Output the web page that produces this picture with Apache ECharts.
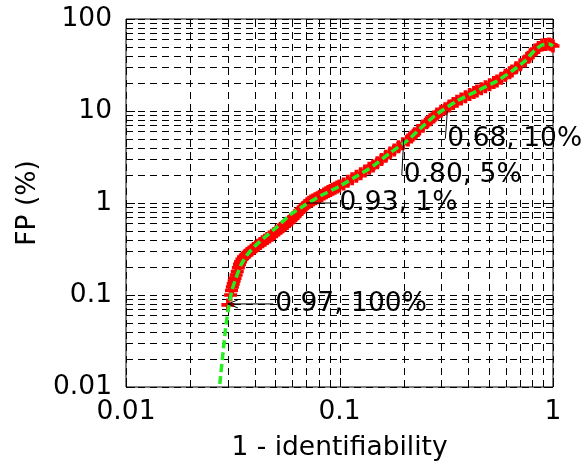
<!DOCTYPE html>
<html>
<head>
<meta charset="utf-8">
<script src="https://cdn.jsdelivr.net/npm/echarts@6/dist/echarts.min.js"></script>
<style>
  html, body { margin: 0; padding: 0; background: #fff; }
  #chart { width: 582px; height: 461px; }
</style>
</head>
<body>
<div id="chart"></div>
<script>
// Axis ticks and labels
const xTickValues = [0.01, 0.1, 1];
const xTickLabels = ['0.01', '0.1', '1'];
const yTickValues = [0.01, 0.1, 1, 10, 100];
const yTickLabels = ['0.01', '0.1', '1', '10', '100'];

// Measured points: 1 - identifiability vs. false positives (%)
const measuredX = [
  0.0300, 0.0309, 0.0312, 0.0315, 0.0318, 0.0321, 0.0324, 0.0328, 0.0332, 0.0336,
  0.0340, 0.0344, 0.0349, 0.0355, 0.0362, 0.0370, 0.0378, 0.0387, 0.0396, 0.0405,
  0.0415, 0.0425, 0.0436, 0.0447, 0.0458, 0.0470, 0.0482, 0.0494, 0.0506, 0.0518,
  0.0530, 0.0542, 0.0555, 0.0568, 0.0581, 0.0594, 0.0607, 0.0620, 0.0634, 0.0648,
  0.0662, 0.0676, 0.0690, 0.0705, 0.0720, 0.0736, 0.0752, 0.0770, 0.0788, 0.0806,
  0.0825, 0.0845, 0.0865, 0.0886, 0.0907, 0.0929, 0.0951, 0.0974, 0.0998, 0.1045,
  0.1094, 0.1146, 0.1200, 0.1257, 0.1316, 0.1378, 0.1436, 0.1503, 0.1574, 0.1648,
  0.1724, 0.1805, 0.1890, 0.1979, 0.2094, 0.2170, 0.2250, 0.2333, 0.2461, 0.2560,
  0.2660, 0.2760, 0.2862, 0.2990, 0.3125, 0.3265, 0.3410, 0.3551, 0.3715, 0.3890,
  0.4070, 0.4260, 0.4406, 0.4610, 0.4825, 0.5050, 0.5280, 0.5467, 0.5720, 0.5985,
  0.6260, 0.6427, 0.6720, 0.7030, 0.7394, 0.7660, 0.7940, 0.8236, 0.8550, 0.8882,
  0.9220, 0.9579, 0.9800, 1.0];
const measuredY = [
  0.078, 0.100, 0.112, 0.122, 0.132, 0.142, 0.152, 0.165, 0.180, 0.198,
  0.215, 0.230, 0.245, 0.258, 0.270, 0.282, 0.294, 0.306, 0.320, 0.334,
  0.348, 0.362, 0.378, 0.394, 0.410, 0.428, 0.446, 0.466, 0.486, 0.508,
  0.530, 0.552, 0.575, 0.600, 0.628, 0.658, 0.690, 0.725, 0.765, 0.805,
  0.850, 0.895, 0.940, 0.980, 1.02, 1.05, 1.08, 1.11, 1.14, 1.18,
  1.21, 1.25, 1.29, 1.33, 1.37, 1.41, 1.45, 1.49, 1.53, 1.61,
  1.72, 1.83, 1.95, 2.08, 2.23, 2.38, 2.53, 2.74, 2.97, 3.23,
  3.50, 3.77, 4.08, 4.40, 4.84, 5.23, 5.66, 6.12, 6.87, 7.43,
  8.02, 8.63, 9.28, 9.91, 10.6, 11.3, 12.1, 12.8, 13.5, 14.3,
  15.1, 15.9, 16.5, 17.4, 18.3, 19.3, 20.4, 21.2, 22.7, 24.4,
  26.1, 27.2, 29.5, 31.9, 35.0, 38.3, 41.9, 46.0, 49.0, 52.2,
  52.9, 53.5, 52.5, 50.9];

// Fitted curve
const fitX = [0.0275, 0.02846, 0.0294, 0.03037, 0.03137, 0.03275, 0.03456, 0.03687, 0.0402, 0.04479,
  0.05096, 0.05862, 0.06892, 0.08104, 0.1005, 0.1208, 0.1436, 0.1724, 0.2094, 0.2461,
  0.2862, 0.3551, 0.4406, 0.5467, 0.6427, 0.7394, 0.8236, 0.8882, 0.9579, 1.0];
const fitY = [0.01078, 0.02343, 0.0472, 0.07786, 0.1133, 0.1531, 0.2119, 0.2721, 0.3409, 0.4271,
  0.5484, 0.7407, 0.9512, 1.191, 1.530, 1.966, 2.525, 3.495, 4.840, 6.871,
  9.277, 12.84, 16.50, 21.19, 27.22, 34.95, 46.03, 52.17, 53.49, 50.86];

// Annotations: text, anchor of the text, point the arrow reaches
const noteText = ['0.97, 100%', '0.93, 1%', '0.80, 5%', '0.68, 10%'];
const noteFrom = [[0.05, 0.08], [0.1, 1], [0.2, 2], [0.32, 5]];
const noteTo = [[0.03, 0.08], [0.07, 1], [0.2, 5], [0.32, 10]];

const X_MIN = 0.01, X_MAX = 1, Y_MIN = 0.01, Y_MAX = 100;
const FONT = 'DejaVu Sans';
const FS = 26.5;

// 1,2,...,9 per decade for the dashed grid
function decadeSteps(lo, hi) {
  const out = [];
  for (let e = Math.round(Math.log10(lo)); e < Math.round(Math.log10(hi)); e++) {
    for (let k = 1; k <= 9; k++) out.push(+(k * Math.pow(10, e)).toPrecision(3));
  }
  out.push(hi);
  return out;
}
const gridXValues = decadeSteps(X_MIN, X_MAX);
const gridYValues = decadeSteps(Y_MIN, Y_MAX);

function isMajor(v) {
  const l = Math.log10(v);
  return Math.abs(l - Math.round(l)) < 1e-6;
}
function tickLabel(values, labels, v) {
  const i = values.findIndex(t => Math.abs(Math.log10(t) - Math.log10(v)) < 1e-6);
  return i >= 0 ? labels[i] : '';
}
const crisp = v => Math.round(v) + 0.5;

const gridStyle = { stroke: '#000', lineWidth: 1, lineDash: [7, 5] };
const tickStyle = { stroke: '#000', lineWidth: 1 };

function renderVertical(params, api) {
  const v = api.value(0);
  const a = api.coord([v, Y_MIN]), b = api.coord([v, Y_MAX]);
  const x = crisp(a[0]);
  const t = isMajor(v) ? 9 : 5;
  return { type: 'group', children: [
    { type: 'line', shape: { x1: x, y1: a[1], x2: x, y2: b[1] }, style: gridStyle },
    { type: 'line', shape: { x1: x, y1: a[1], x2: x, y2: a[1] - t }, style: tickStyle },
    { type: 'line', shape: { x1: x, y1: b[1], x2: x, y2: b[1] + t }, style: tickStyle }
  ]};
}
function renderHorizontal(params, api) {
  const v = api.value(1);
  const a = api.coord([X_MIN, v]), b = api.coord([X_MAX, v]);
  const y = crisp(a[1]);
  const t = isMajor(v) ? 9 : 5;
  return { type: 'group', children: [
    { type: 'line', shape: { x1: a[0], y1: y, x2: b[0], y2: y }, style: gridStyle },
    { type: 'line', shape: { x1: a[0], y1: y, x2: a[0] + t, y2: y }, style: tickStyle },
    { type: 'line', shape: { x1: b[0], y1: y, x2: b[0] - t, y2: y }, style: tickStyle }
  ]};
}

// '+' marker outline
const plusPath = 'path://M3.6,0H6.4V3.6H10V6.4H6.4V10H3.6V6.4H0V3.6H3.6Z';

const chart = echarts.init(document.getElementById('chart'), null, { renderer: 'canvas' });
chart.setOption({
  animation: false,
  backgroundColor: '#fff',
  grid: { left: 126, right: 29, top: 19, bottom: 74, outerBoundsMode: 'none', containLabel: false,
    show: true, borderColor: '#000', borderWidth: 1, backgroundColor: 'transparent' },
  xAxis: {
    type: 'log', logBase: 10, min: X_MIN, max: X_MAX,
    name: '1 - identifiability', nameLocation: 'middle', nameGap: 48,
    nameTextStyle: { fontFamily: FONT, fontSize: FS, color: '#000' },
    axisLine: { show: false }, axisTick: { show: false }, splitLine: { show: false },
    axisLabel: { fontFamily: FONT, fontSize: FS, color: '#000', margin: 12,
      formatter: v => tickLabel(xTickValues, xTickLabels, v) }
  },
  yAxis: {
    type: 'log', logBase: 10, min: Y_MIN, max: Y_MAX,
    name: 'FP (%)', nameLocation: 'middle', nameGap: 80, nameRotate: 90,
    nameTextStyle: { fontFamily: FONT, fontSize: FS, color: '#000' },
    axisLine: { show: false }, axisTick: { show: false }, splitLine: { show: false },
    axisLabel: { fontFamily: FONT, fontSize: FS, color: '#000', margin: 14,
      formatter: v => tickLabel(yTickValues, yTickLabels, v) }
  },
  series: [
    { type: 'custom', silent: true, z: 1, clip: false, renderItem: renderVertical,
      data: gridXValues.map(v => [v, Y_MIN]) },
    { type: 'custom', silent: true, z: 1, clip: false, renderItem: renderHorizontal,
      data: gridYValues.map(v => [X_MIN, v]) },
    { type: 'scatter', z: 3, symbol: plusPath, symbolSize: 13, clip: false,
      itemStyle: { color: '#ff0000', opacity: 1 },
      data: measuredX.map((x, i) => [x, measuredY[i]]) },
    { type: 'line', z: 4, symbol: 'none', smooth: 0.2,
      lineStyle: { color: '#22ee22', width: 3.5, type: [8, 4] },
      data: fitX.map((x, i) => [x, fitY[i]]) }
  ]
});

// Annotation labels with arrows pointing at the curve
const graphics = [];
noteText.forEach((txt, i) => {
  const p0 = chart.convertToPixel({ gridIndex: 0 }, noteFrom[i]);
  const p1 = chart.convertToPixel({ gridIndex: 0 }, noteTo[i]);
  graphics.push({ type: 'line', z: 10, shape: { x1: p0[0] - 2, y1: p0[1], x2: p1[0], y2: p1[1] },
    style: { stroke: '#000', lineWidth: 1 } });
  if (i === 0) {
    graphics.push({ type: 'polyline', z: 10,
      shape: { points: [[p1[0] + 10, p1[1] - 4], [p1[0], p1[1]], [p1[0] + 10, p1[1] + 4]] },
      style: { stroke: '#000', lineWidth: 1, fill: null } });
  }
  graphics.push({ type: 'text', z: 11, x: p0[0], y: p0[1],
    style: { text: txt, fontFamily: FONT, fontSize: FS, fill: '#000', align: 'left', verticalAlign: 'middle' } });
});
chart.setOption({ graphic: graphics });
</script>
</body>
</html>
